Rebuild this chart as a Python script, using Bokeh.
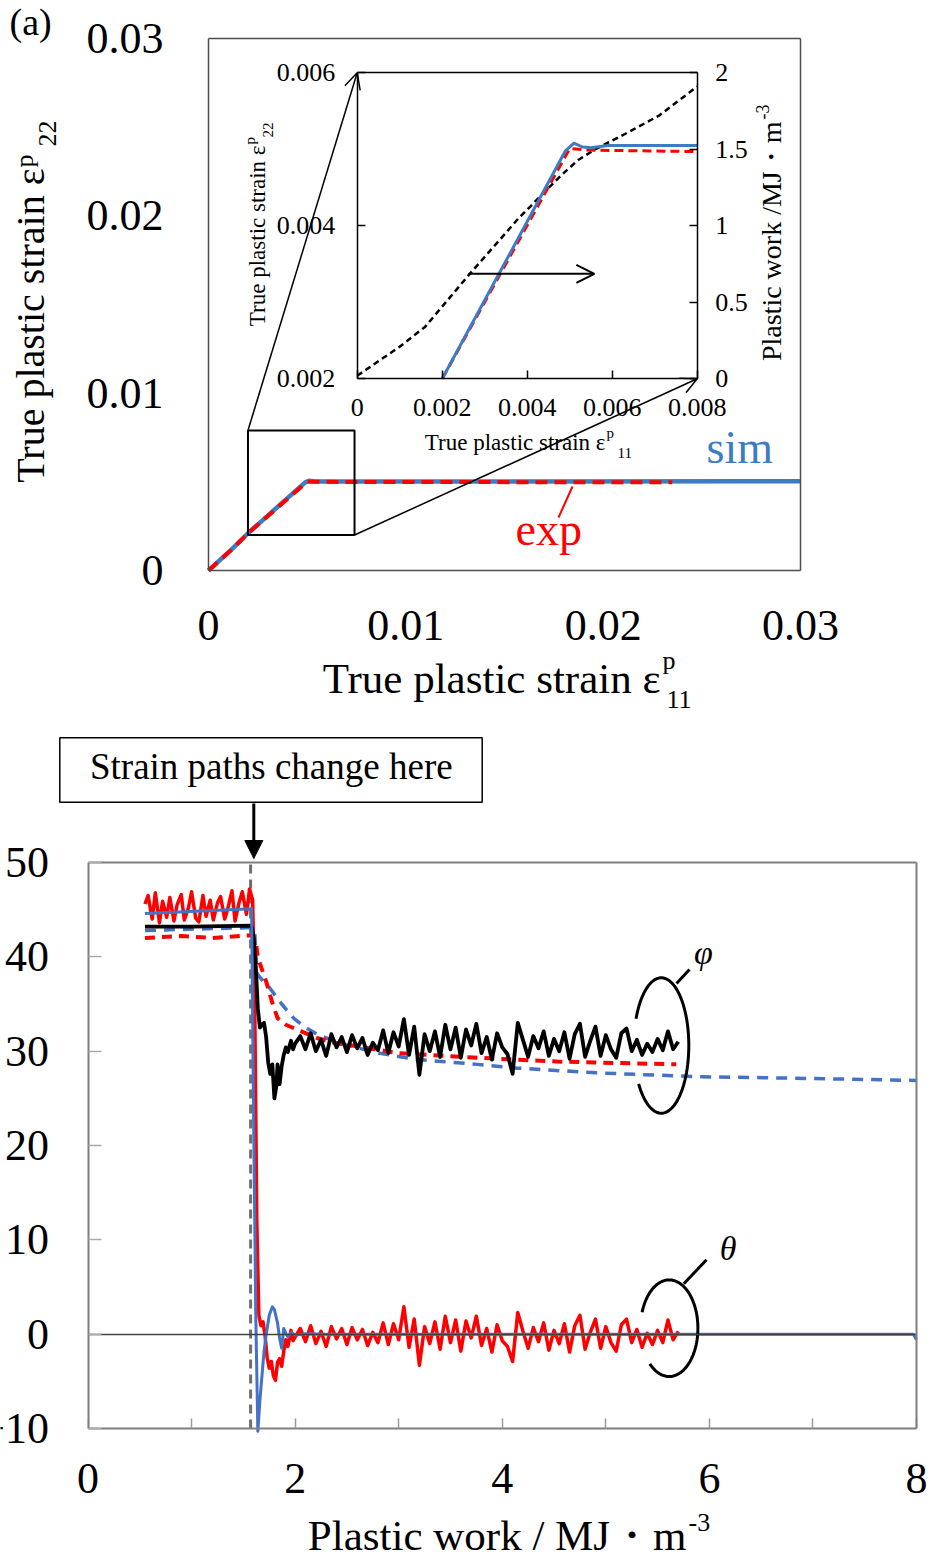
from math import pi
import numpy as np
from bokeh.plotting import figure
from bokeh.models import (Range1d, LinearAxis, FixedTicker, NumeralTickFormatter,
                          Label, Arrow, OpenHead, NormalHead)
from bokeh.embed import file_html
from bokeh.resources import INLINE

SERIF = "Liberation Serif"
W, H = 930, 1562

# ------------------------------------------------------------------ data
# panel (a): main plot
main_ticks = [0, 0.01, 0.02, 0.03]
main_e11_sim = [0, 0.0012, 0.0020, 0.0049, 0.0051, 0.0054, 0.0300]
main_e22_sim = [0, 0.00122, 0.0021, 0.00497, 0.00506, 0.00502, 0.00503]
main_e11_exp = [0, 0.0012, 0.0020, 0.0050, 0.0235]
main_e22_exp = [0, 0.00120, 0.0021, 0.00500, 0.00497]
zoom_box_e11 = [0.002, 0.0074]
zoom_box_e22 = [0.002, 0.0079]

# panel (a): inset
inset_xticks = [0, 0.002, 0.004, 0.006, 0.008]
inset_yticks = [0.002, 0.004, 0.006]
inset_wticks = [0, 0.5, 1, 1.5, 2]
inset_e11_sim = [0.0020, 0.0049, 0.0051, 0.0053, 0.0055, 0.0059, 0.0080]
inset_e22_sim = [0.0020, 0.00498, 0.00508, 0.00503, 0.00502, 0.00505, 0.00505]
inset_e11_exp = [0.0020, 0.0050, 0.0054, 0.0080]
inset_e22_exp = [0.0020, 0.00501, 0.00499, 0.00497]
inset_e11_work = [0, 0.0010, 0.0016, 0.0026, 0.0038, 0.0048, 0.0052, 0.0056,
                  0.0063, 0.0071, 0.0080]
inset_work = [0.02, 0.21, 0.34, 0.67, 1.05, 1.33, 1.43, 1.50, 1.60, 1.72, 1.91]
inset_arrow_e11 = [0.00262, 0.00558]
inset_arrow_w = 0.686

# panel (b): angles vs plastic work
bx_ticks = [0, 2, 4, 6, 8]
bx_minor = [1, 3, 5, 7]
by_ticks = [-10, 0, 10, 20, 30, 40, 50]
w_change = 1.57

# shared sampling of the measured (noisy) signals after the path change
w_post = [2.00, 2.05, 2.10, 2.15, 2.20, 2.25, 2.30, 2.35, 2.40, 2.45, 2.50, 2.55,
          2.60, 2.65, 2.70, 2.75, 2.80, 2.85, 2.90, 2.95, 3.00, 3.05, 3.10, 3.15,
          3.20, 3.25, 3.30, 3.35, 3.40, 3.45, 3.50, 3.55, 3.60, 3.65, 3.70, 3.75,
          3.80, 3.85, 3.90, 3.95, 4.00, 4.05, 4.10, 4.15, 4.20, 4.25, 4.30, 4.35,
          4.40, 4.45, 4.50, 4.55, 4.60, 4.65, 4.70, 4.75, 4.80, 4.85, 4.90, 4.95,
          5.00, 5.05, 5.10, 5.15, 5.20, 5.25, 5.30, 5.35, 5.40, 5.45, 5.50, 5.55,
          5.60, 5.65, 5.70]

# phi, experiment (black solid)
phi_exp_w_pre = [0.55, 1.00, 1.58, 1.60, 1.62, 1.64, 1.66, 1.68, 1.70, 1.72, 1.74,
                 1.76, 1.78, 1.80, 1.82, 1.83, 1.85, 1.87, 1.89, 1.91, 1.93, 1.96, 1.98]
phi_exp_pre = [43.2, 43.2, 43.3, 42.0, 39.0, 34.5, 32.5, 32.8, 33.0, 31.5, 28.8,
               27.6, 28.6, 25.0, 26.4, 28.6, 26.5, 28.4, 29.6, 30.4, 29.9, 31.1, 30.2]
phi_exp_post = [30.8, 31.6, 30.2, 31.9, 30.0, 31.2, 29.5, 31.8, 30.4, 31.5, 29.9, 31.7,
                30.3, 31.4, 29.6, 30.9, 30.1, 32.2, 29.8, 32.0, 30.5, 33.4, 29.6, 32.6,
                27.5, 31.8, 30.0, 32.1, 29.4, 32.8, 30.2, 32.5, 29.3, 32.3, 30.6, 32.9,
                29.8, 31.5, 29.1, 31.9, 30.4, 29.7, 27.6, 33.0, 31.2, 29.4, 31.6, 30.3,
                32.1, 29.5, 31.3, 30.0, 32.0, 29.2, 31.8, 32.9, 29.4, 31.1, 32.6, 29.5,
                31.7, 30.2, 29.3, 31.9, 32.4, 30.0, 31.2, 29.6, 30.8, 29.9, 31.3, 30.1,
                32.1, 30.2, 31.0]

# theta, experiment (red solid)
theta_exp_w_pre = [0.55, 0.58, 0.62, 0.65, 0.69, 0.72, 0.76, 0.79, 0.83, 0.86, 0.90,
                   0.93, 0.97, 1.00, 1.04, 1.07, 1.11, 1.14, 1.18, 1.21, 1.25, 1.28,
                   1.32, 1.35, 1.39, 1.42, 1.46, 1.49, 1.53, 1.56, 1.59, 1.61, 1.63,
                   1.65, 1.67, 1.69, 1.71, 1.73, 1.75, 1.77, 1.79, 1.81, 1.83, 1.85,
                   1.87, 1.89, 1.91, 1.93, 1.96, 1.98]
theta_exp_pre = [45.6, 46.5, 44.0, 46.8, 43.6, 45.9, 44.2, 46.3, 43.8, 45.5, 46.6,
                 43.9, 45.2, 46.9, 44.1, 43.7, 46.5, 44.3, 46.0, 43.9, 45.7, 46.4,
                 44.0, 45.1, 47.0, 43.8, 45.8, 46.9, 44.5, 47.2, 46.0, 35.0, 12.0,
                 2.0, 0.9, 1.3, -0.2, -2.5, -3.6, -2.9, -4.4, -4.9, -3.0, -2.6,
                 -3.4, -1.8, -0.6, -1.3, 0.4, -0.7]
theta_exp_post = [-0.3, 0.6, -0.8, 0.9, -1.0, 0.3, -1.3, 0.8, -0.5, 0.6, -1.1, 0.7,
                  -0.6, 0.5, -1.2, 0.2, -0.9, 1.2, -1.1, 1.1, -0.6, 2.9, -1.4, 1.6,
                  -3.3, 0.8, -1.0, 1.3, -1.6, 1.9, -0.9, 1.5, -1.8, 1.4, -0.4, 1.9,
                  -1.2, 0.6, -1.9, 1.0, -0.7, -1.3, -2.9, 2.3, 0.3, -1.5, 0.7, -0.8,
                  1.2, -1.7, 0.4, -1.0, 1.1, -1.9, 0.9, 2.0, -1.6, 0.2, 1.6, -1.5,
                  0.8, -0.9, -1.8, 1.0, 1.6, -0.9, 0.5, -1.4, 0.1, -1.1, 0.4, -0.9,
                  1.5, -0.6, 0.3]

# theta, simulation (blue solid)
theta_sim_w = [0.55, 1.58, 1.60, 1.62, 1.64, 1.66, 1.68, 1.70, 1.72, 1.75, 1.78, 1.80,
               1.83, 1.85, 1.87, 1.89, 1.91, 1.93, 1.96, 2.00, 2.10, 2.30, 4.00, 6.00,
               7.97, 8.00]
theta_sim = [44.6, 45.1, 22.0, 2.0, -10.3, -7.0, -4.4, -1.8, -0.1, 2.0, 2.9, 2.6,
             1.2, -0.4, -1.5, 0.6, 0.1, -0.3, 0.2, -0.1, 0.05, 0.0, 0.0, 0.0, 0.0, -0.6]

# phi, simulation (blue dashed)
phi_sim_w = [0.55, 1.58, 1.61, 1.633, 1.70, 1.755, 1.87, 1.985, 2.10, 2.21, 2.41,
             2.80, 3.19, 3.76, 4.15, 4.91, 5.87, 7.00, 8.00]
phi_sim = [42.8, 43.1, 42.5, 38.2, 37.3, 36.7, 35.0, 33.5, 32.5, 31.8, 30.9,
           29.8, 29.1, 28.6, 28.2, 27.7, 27.3, 27.1, 26.9]

# phi, experiment smoothed (red dashed)
phi_fit_w = [0.55, 0.90, 1.20, 1.58, 1.60, 1.62, 1.64, 1.72, 1.775, 1.83, 1.91,
             2.06, 2.21, 2.37, 2.61, 2.99, 3.76, 4.53, 5.68]
phi_fit = [42.0, 42.2, 42.0, 42.3, 42.0, 41.7, 39.9, 37.4, 35.3, 33.5, 32.8,
           32.1, 31.4, 30.9, 30.5, 29.8, 29.3, 28.9, 28.6]

# ------------------------------------------------------------------ layout (pixels)
MAIN_L, MAIN_R, MAIN_T, MAIN_B = 208, 800, 38, 570
INS_L, INS_R, INS_T, INS_B = 356.7, 696.7, 72.3, 378.3
BOT_L, BOT_R, BOT_T, BOT_B = 87.5, 916, 862, 1428


def lin(v0, p0, v1, p1):
    k = (v1 - v0) / (p1 - p0)
    return lambda px: v0 + (px - p0) * k


def xr(v0, p0, v1, p1):
    f = lin(v0, p0, v1, p1)
    return Range1d(f(0), f(W))


def yr(v0, p0, v1, p1):
    f = lin(v0, p0, v1, p1)
    return Range1d(f(H), f(0))


p = figure(width=W, height=H, x_range=Range1d(0, W), y_range=Range1d(H, 0),
           x_axis_type=None, y_axis_type=None, output_backend="svg",
           toolbar_location=None, min_border=0, outline_line_color=None)
p.background_fill_color = "white"
p.border_fill_color = "white"

p.extra_x_ranges = {
    "mx": xr(0, MAIN_L, 0.03, MAIN_R),
    "ix": xr(0, INS_L, 0.008, INS_R),
    "bx": xr(0, BOT_L, 8, BOT_R),
}
p.extra_y_ranges = {
    "my": yr(0, MAIN_B, 0.03, MAIN_T),
    "iy": yr(0.002, INS_B, 0.006, INS_T),
    "iw": yr(0, INS_B, 2, INS_T),
    "by": yr(-10, BOT_B, 50, BOT_T),
}


def add_axis(side, xn, yn, loc, bounds, ticks=(), minor=(), fmt=None, font_px=0,
             standoff=0, tick_in=0, color="black", lw=1.5, tick_color=None, tick_w=1.5):
    ax = LinearAxis(x_range_name=xn, y_range_name=yn, fixed_location=loc,
                    bounds=bounds,
                    ticker=FixedTicker(ticks=list(ticks), minor_ticks=list(minor)))
    if fmt:
        ax.formatter = NumeralTickFormatter(format=fmt)
    ax.axis_line_color = color
    ax.axis_line_width = lw
    ax.major_tick_in = tick_in
    ax.major_tick_out = 0
    ax.minor_tick_in = tick_in if minor else 0
    ax.minor_tick_out = 0
    tc = tick_color or color
    ax.major_tick_line_color = tc
    ax.minor_tick_line_color = tc
    ax.major_tick_line_width = tick_w
    ax.minor_tick_line_width = tick_w
    if font_px:
        ax.major_label_text_font = SERIF
        ax.major_label_text_font_size = f"{font_px}px"
        ax.major_label_text_color = "black"
        ax.major_label_standoff = standoff
    else:
        ax.major_label_text_font_size = "0px"
    p.add_layout(ax, side)
    return ax


def label(x, y, text, size, color="black", align="left", baseline="middle",
          angle=0.0, style="normal"):
    p.add_layout(Label(x=x, y=y, text=text, text_font=SERIF,
                       text_font_size=f"{size}px", text_color=color,
                       text_align=align, text_baseline=baseline, angle=angle,
                       text_font_style=style))


# ------------------------------------------------------------------ panel (a) main
FR = "#4d4d4d"
add_axis("below", "mx", "my", 0, (0, 0.03), main_ticks, fmt="0.[00]", font_px=44,
         standoff=40, color=FR)
add_axis("left", "mx", "my", 0, (0, 0.03), main_ticks, fmt="0.[00]", font_px=44,
         standoff=45, color=FR)
add_axis("above", "mx", "my", 0.03, (0, 0.03), color=FR)
add_axis("right", "mx", "my", 0.03, (0, 0.03), color=FR)

BLUE_A = "#3B7DC4"
p.line(main_e11_sim, main_e22_sim, x_range_name="mx", y_range_name="my",
       line_color=BLUE_A, line_width=4.5)
p.line(main_e11_exp, main_e22_exp, x_range_name="mx", y_range_name="my",
       line_color="#FF0000", line_width=4, line_dash="12 7")

# zoom box
p.quad(left=[zoom_box_e11[0]], right=[zoom_box_e11[1]], bottom=[zoom_box_e22[0]],
       top=[zoom_box_e22[1]], x_range_name="mx", y_range_name="my",
       fill_color=None, line_color="black", line_width=2)

to_mx = lin(0, MAIN_L, 0.03, MAIN_R)
to_my = lin(0, MAIN_B, 0.03, MAIN_T)
for xs, ys, xe, ye in [(zoom_box_e11[0], zoom_box_e22[1], to_mx(INS_L), to_my(INS_T)),
                       (zoom_box_e11[1], zoom_box_e22[0], to_mx(INS_R), to_my(INS_B))]:
    p.add_layout(Arrow(end=OpenHead(size=16, line_width=1.5, line_color="black"),
                       x_start=xs, y_start=ys, x_end=xe, y_end=ye,
                       line_width=1.5, line_color="black",
                       x_range_name="mx", y_range_name="my"))

# ------------------------------------------------------------------ inset
p.quad(left=[INS_L], right=[INS_R], top=[INS_T], bottom=[INS_B],
       fill_color="white", line_color=None)
add_axis("below", "ix", "iy", 0.002, (0, 0.008), inset_xticks, fmt="0.[000]",
         font_px=26, standoff=20, tick_in=8)
add_axis("left", "ix", "iy", 0, (0.002, 0.006), inset_yticks, fmt="0.000",
         font_px=26, standoff=22, tick_in=8)
add_axis("right", "ix", "iw", 0.008, (0, 2), inset_wticks, fmt="0.[0]",
         font_px=26, standoff=18, tick_in=8)
add_axis("above", "ix", "iy", 0.006, (0, 0.008))

p.line(inset_e11_work, inset_work, x_range_name="ix", y_range_name="iw",
       line_color="black", line_width=2.5, line_dash="6 4")
p.line(inset_e11_exp, inset_e22_exp, x_range_name="ix", y_range_name="iy",
       line_color="#FF0000", line_width=3, line_dash="9 5")
p.line(inset_e11_sim, inset_e22_sim, x_range_name="ix", y_range_name="iy",
       line_color=BLUE_A, line_width=3)
p.add_layout(Arrow(end=OpenHead(size=18, line_width=2, line_color="black"),
                   x_start=inset_arrow_e11[0], y_start=inset_arrow_w,
                   x_end=inset_arrow_e11[1], y_end=inset_arrow_w,
                   line_width=2, line_color="black",
                   x_range_name="ix", y_range_name="iw"))

# ------------------------------------------------------------------ texts panel (a)
label(9, 21, "(a)", 38)
# main y title (rotated)
label(30, 168, "True plastic strain ε", 40, align="right", angle=pi / 2)
label(24, 167, "p", 26, angle=pi / 2)
label(47, 146, "22", 26, angle=pi / 2)
# main x title
label(660, 678, "True plastic strain ε", 43, align="right")
label(662, 660, "p", 26)
label(666, 699, "11", 26)
# inset x title
label(605, 442, "True plastic strain ε", 23, align="right")
label(606, 432, "p", 15)
label(617, 452, "11", 15)
# inset y title
label(257, 145, "True plastic strain ε", 23, align="right", angle=pi / 2)
label(249, 144, "p", 15, angle=pi / 2)
label(267, 137, "22", 15, angle=pi / 2)
# inset right title
label(771, 121, "Plastic work /MJ・m", 28, align="right", angle=pi / 2)
label(762, 119, "-3", 18, angle=pi / 2)
# sim / exp
label(706, 447, "sim", 46, color=BLUE_A)
label(515, 529, "exp", 46, color="#FF0000")
p.segment(x0=[572], y0=[486], x1=[558], y1=[517], line_color="#FF0000", line_width=2)

# ------------------------------------------------------------------ panel (b)
GR = "#7f7f7f"
add_axis("below", "bx", "by", -10, (0, 8), bx_ticks, minor=bx_minor, font_px=44,
         standoff=35, tick_in=10, color=GR, lw=2, tick_color="#999999")
add_axis("left", "bx", "by", 0, (-10, 50), by_ticks, font_px=44, standoff=39,
         tick_in=13, color=GR, lw=2, tick_color="#aaaaaa")
add_axis("above", "bx", "by", 50, (0, 8), color=GR, lw=2)
add_axis("right", "bx", "by", 8, (-10, 50), color=GR, lw=2)
add_axis("below", "bx", "by", 0, (0, 8), color="#404040", lw=1.5)

p.segment(x0=[w_change], y0=[-10], x1=[w_change], y1=[50], x_range_name="bx",
          y_range_name="by", line_color="#6f6f6f", line_width=3, line_dash="9 6")

BLUE_B = "#4472C4"
p.line(phi_sim_w, phi_sim, x_range_name="bx", y_range_name="by",
       line_color=BLUE_B, line_width=3.5, line_dash="11 8")
p.line(phi_fit_w, phi_fit, x_range_name="bx", y_range_name="by",
       line_color="#FF0000", line_width=4, line_dash="10 7")
p.line(theta_exp_w_pre + w_post, theta_exp_pre + theta_exp_post, x_range_name="bx",
       y_range_name="by", line_color="#FF0000", line_width=3.5, line_join="round")
p.line(phi_exp_w_pre + w_post, phi_exp_pre + phi_exp_post, x_range_name="bx",
       y_range_name="by", line_color="black", line_width=3.8, line_join="round")
p.line(theta_sim_w, theta_sim, x_range_name="bx", y_range_name="by",
       line_color=BLUE_B, line_width=3, line_join="round")

# annotation box + arrow
p.quad(left=[59.3], right=[481.7], top=[737.3], bottom=[801.7],
       fill_color="white", line_color="black", line_width=1.5)
label(270.8, 766, "Strain paths change here", 37, align="center")
p.add_layout(Arrow(end=NormalHead(size=18, fill_color="black", line_color="black"),
                   x_start=253.3, y_start=803, x_end=253.3, y_end=858,
                   line_width=3, line_color="black"))


def arc_pts(cx, cy, rx, ry, t0, t1, n=90):
    t = np.radians(np.linspace(t0, t1, n))
    return list(cx + rx * np.cos(t)), list(cy - ry * np.sin(t))


ax_, ay_ = arc_pts(660.8, 1045, 27.5, 67.7, -145.5, 156.8)
p.line(ax_, ay_, line_color="black", line_width=3)
p.segment(x0=[676], y0=[983], x1=[689], y1=[969], line_color="black", line_width=3)
label(703, 952, "φ", 34, align="center", style="italic")

tx_, ty_ = arc_pts(668.7, 1327.7, 28.7, 48.3, -132.5, 160.7)
p.line(tx_, ty_, line_color="black", line_width=3)
p.segment(x0=[683.3], y0=[1283.3], x1=[706], y1=[1259.3], line_color="black",
          line_width=3)
label(727.5, 1248, "θ", 34, align="center", style="italic")

# bottom x title
label(686, 1535, "Plastic work / MJ・m", 43, align="right")
label(688, 1522, "-3", 26)

open("out.html", "w").write(file_html(p, INLINE))
